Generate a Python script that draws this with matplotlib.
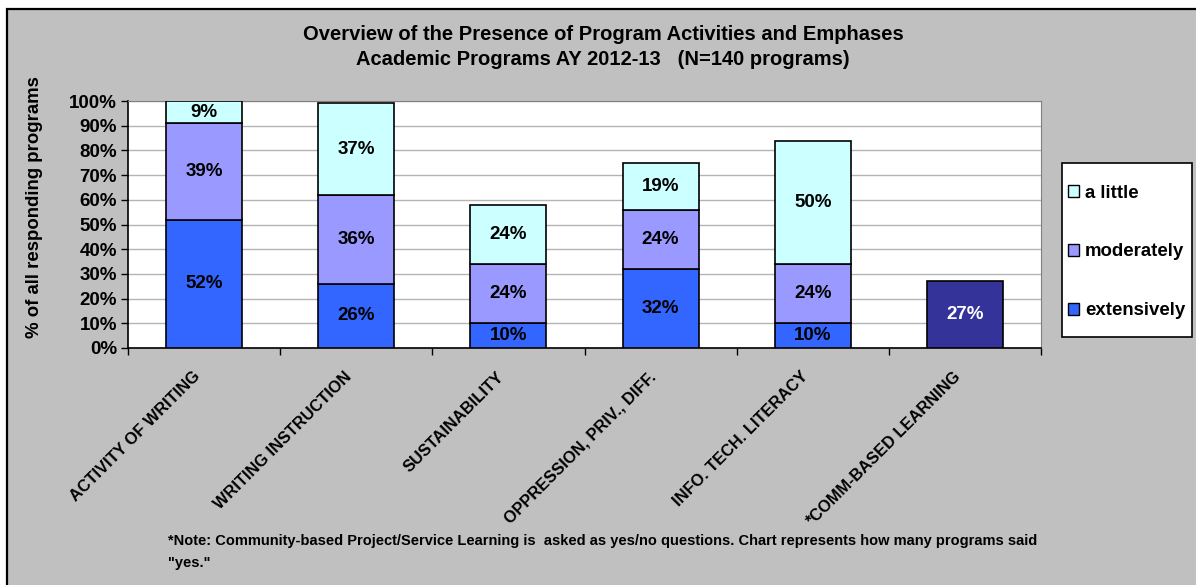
import numpy as np
import matplotlib
matplotlib.use("Agg")
import matplotlib.pyplot as plt
from matplotlib.patches import Rectangle, Patch
from matplotlib.ticker import PercentFormatter, FixedLocator
from matplotlib.transforms import ScaledTranslation

plt.rcParams['font.family'] = ['Liberation Sans', 'DejaVu Sans']
plt.rcParams['font.weight'] = 'bold'

categories = ["ACTIVITY OF WRITING", "WRITING INSTRUCTION", "SUSTAINABILITY",
              "OPPRESSION, PRIV., DIFF.", "INFO. TECH. LITERACY", "*COMM-BASED LEARNING"]
# first five categories are stacked, the last one is a yes/no share
extensively = [52, 26, 10, 32, 10]
moderately = [39, 36, 24, 24, 24]
a_little = [9, 37, 24, 19, 50]
comm_based = 27

col_ext = "#3366FF"
col_mod = "#9999FF"
col_lit = "#CCFFFF"
col_comm = "#333399"

W, H = 1196, 585
fig = plt.figure(figsize=(W / 100, H / 100), dpi=100, facecolor="white")

# gray chart area, cut off at right and bottom like the screenshot
fig.patches.append(Rectangle((7 / W, -0.1), 1.2, 1.1 - 9 / H,
                             transform=fig.transFigure, facecolor="#C0C0C0",
                             edgecolor="black", linewidth=1.6, zorder=-10))

ax = fig.add_axes([128 / W, 1 - 348 / H, 913 / W, 247 / H])
ax.set_facecolor("white")

x = np.arange(len(extensively))
w = 0.5
ekw = dict(edgecolor="black", linewidth=1.2, zorder=3)
b1 = ax.bar(x, extensively, w, color=col_ext, **ekw)
b2 = ax.bar(x, moderately, w, bottom=extensively, color=col_mod, **ekw)
bottom3 = np.array(extensively) + np.array(moderately)
b3 = ax.bar(x, a_little, w, bottom=bottom3, color=col_lit, **ekw)
b4 = ax.bar([len(extensively)], [comm_based], w, color=col_comm, **ekw)

lkw = dict(label_type="center", fontsize=13.5, fontweight="bold")
ax.bar_label(b1, labels=[f"{v}%" for v in extensively], **lkw)
ax.bar_label(b2, labels=[f"{v}%" for v in moderately], **lkw)
ax.bar_label(b3, labels=[f"{v}%" for v in a_little], **lkw)
ax.bar_label(b4, labels=[f"{comm_based}%"], color="white", **lkw)

ax.set_xlim(-0.5, len(categories) - 0.5)
ax.set_ylim(0, 100)
ax.set_yticks(np.arange(0, 101, 10))
ax.yaxis.set_major_formatter(PercentFormatter(decimals=0))
ax.tick_params(axis="y", labelsize=13.5, direction="out", length=5, width=1, pad=3)
ax.grid(axis="y", color="#B4B4B4", linewidth=1, zorder=0)
ax.set_axisbelow(True)

ax.set_xticks(np.arange(len(categories)))
ax.set_xticklabels(categories, rotation=45, ha="right", rotation_mode="anchor",
                   fontsize=11.8, fontweight="bold")
ax.tick_params(axis="x", which="major", length=0, pad=15)
shift = ScaledTranslation(-12 / 100, 0, fig.dpi_scale_trans)
for lab in ax.get_xticklabels():
    lab.set_transform(lab.get_transform() + shift)
ax.xaxis.set_minor_locator(FixedLocator(np.arange(-0.5, len(categories), 1)))
ax.tick_params(axis="x", which="minor", length=5, width=1, direction="out")

for s in ["top", "right"]:
    ax.spines[s].set_color("#808080")
for s in ["left", "bottom"]:
    ax.spines[s].set_color("black")
    ax.spines[s].set_linewidth(1.2)

ax.set_ylabel("% of all responding programs", fontsize=13.4, fontweight="bold")
ax.yaxis.set_label_coords((43 - 128) / 913, (348 - 207) / 247)

fig.text(603 / W, 1 - 47 / H,
         "Overview of the Presence of Program Activities and Emphases\n"
         "Academic Programs AY 2012-13   (N=140 programs)",
         ha="center", va="center", fontsize=14.5, fontweight="bold", linespacing=1.35)

# legend box drawn separately so the padding can match
fig.patches.append(Rectangle((1062 / W, 1 - 337 / H), 130 / W, 174 / H,
                             transform=fig.transFigure, facecolor="white",
                             edgecolor="black", linewidth=1.2, zorder=1))
handles = [Patch(facecolor=col_lit, edgecolor="black"),
           Patch(facecolor=col_mod, edgecolor="black"),
           Patch(facecolor=col_ext, edgecolor="black")]
leg = fig.legend(handles, ["a little", "moderately", "extensively"],
                 loc="center left", bbox_to_anchor=(1068 / W, 1 - 252 / H),
                 prop={"size": 13.4, "weight": "bold"}, frameon=False,
                 handlelength=0.6, handleheight=0.6, handletextpad=0.3,
                 labelspacing=2.25, borderpad=0, borderaxespad=0)

fig.text(168 / W, 1 - 534 / H,
         "*Note: Community-based Project/Service Learning is  asked as yes/no questions. "
         "Chart represents how many programs said\n\"yes.\"",
         ha="left", va="top", fontsize=10.5, fontweight="bold", linespacing=1.75)

fig.savefig("out.png", dpi=100, facecolor="white")
